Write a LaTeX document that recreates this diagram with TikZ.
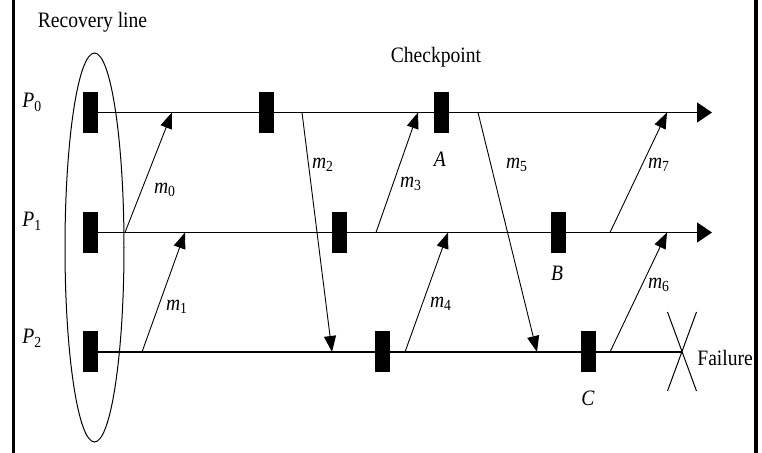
\documentclass[tikz,border=0pt]{standalone}
\usepackage{fontspec}
\setmainfont{Liberation Serif}[FakeStretch=0.89]
\usepackage{tikz}
\usetikzlibrary{arrows.meta,positioning,shapes.geometric}

\newcommand{\sublbl}[2]{\textit{#1}\textsubscript{#2}}

\begin{document}
\begin{tikzpicture}[
    x=0.5pt, y=-0.5pt,
    ckpt/.style={fill=black, minimum width=7.5pt, minimum height=20.5pt, inner sep=0pt},
    txt/.style={font=\fontsize{11}{13}\selectfont, inner sep=0pt},
    proc/.style={line width=0.7pt},
    procarr/.style={proc, -{Triangle[length=7.5pt, width=10pt]}},
    msg/.style={line width=0.45pt, -{Triangle[length=8pt, width=6pt]}}
  ]
    \useasboundingbox (0,0) rectangle (762,453);

    % frame sides
    \draw[line width=1.6pt] (13.5,0) -- (13.5,453);
    \draw[line width=1.6pt] (756,0) -- (756,453);

    % checkpoints
    \node[ckpt] (c00) at (90.5,112.5) {};
    \node[ckpt] (c01) at (266,112.5) {};
    \node[ckpt] (ckA) at (441.5,112.5) {};
    \node[ckpt] (c10) at (90.5,232.5) {};
    \node[ckpt] (c11) at (339.5,232.5) {};
    \node[ckpt] (ckB) at (558,232.5) {};
    \node[ckpt] (c20) at (90.5,352) {};
    \node[ckpt] (c21) at (382.5,352) {};
    \node[ckpt] (ckC) at (588,352) {};

    % process lines
    \coordinate (end0) at (712,112.5);
    \coordinate (end1) at (712,232.5);
    \coordinate (fail) at (682,352);
    \draw[procarr] (c00.east) -- (end0);
    \draw[procarr] (c10.east) -- (end1);
    \draw[proc] (c20.east) -- (fail);

    % failure cross
    \draw[line width=0.5pt] (fail) ++(-14.5,-40) -- ++(29,79);
    \draw[line width=0.5pt] (fail) ++(14.5,-40) -- ++(-29,79);
    \node[txt, anchor=base west] (failtxt) at (697,366) {Failure};

    % recovery line
    \node[draw, ellipse, line width=0.5pt, inner sep=0pt,
          minimum width=29.5pt, minimum height=194.5pt] (recline) at (94.5,247.5) {};
    \node[txt, anchor=base] (rectxt) at (92.5,28) {Recovery line};
    \node[txt, anchor=base] (cktxt) at (436,63) {Checkpoint};

    % process names
    \node[txt, anchor=base west] (p0) at (22,108) {\sublbl{P}{0}};
    \node[txt, anchor=base west] (p1) at (22,227) {\sublbl{P}{1}};
    \node[txt, anchor=base west] (p2) at (22,344) {\sublbl{P}{2}};

    % checkpoint names
    \node[txt] (lA) at (440,159.5) {\textit{A}};
    \node[txt] (lB) at (557,273) {\textit{B}};
    \node[txt] (lC) at (588,398) {\textit{C}};

    % messages
    \coordinate (s0) at (125,232.5);  \coordinate (r0) at (172,112.5);
    \coordinate (s1) at (142,352);    \coordinate (r1) at (185,232.5);
    \coordinate (s2) at (302,112.5);  \coordinate (r2) at (332,352);
    \coordinate (s3) at (376,232.5);  \coordinate (r3) at (418,112.5);
    \coordinate (s4) at (405,352);    \coordinate (r4) at (448,232.5);
    \coordinate (s5) at (478,112.5);  \coordinate (r5) at (537,352);
    \coordinate (s6) at (610,352);    \coordinate (r6) at (667,232.5);
    \coordinate (s7) at (610,232.5);  \coordinate (r7) at (667,112.5);
    \foreach \i in {0,...,7}
      \draw[msg] (s\i) -- (r\i);

    \node[txt] (m0) at (165,190) {\sublbl{m}{0}};
    \node[txt] (m1) at (177,307) {\sublbl{m}{1}};
    \node[txt] (m2) at (323,165) {\sublbl{m}{2}};
    \node[txt] (m3) at (411,184) {\sublbl{m}{3}};
    \node[txt] (m4) at (441,304) {\sublbl{m}{4}};
    \node[txt] (m5) at (517,165) {\sublbl{m}{5}};
    \node[txt] (m6) at (659,285) {\sublbl{m}{6}};
    \node[txt] (m7) at (659,165) {\sublbl{m}{7}};
  \end{tikzpicture}
\end{document}
